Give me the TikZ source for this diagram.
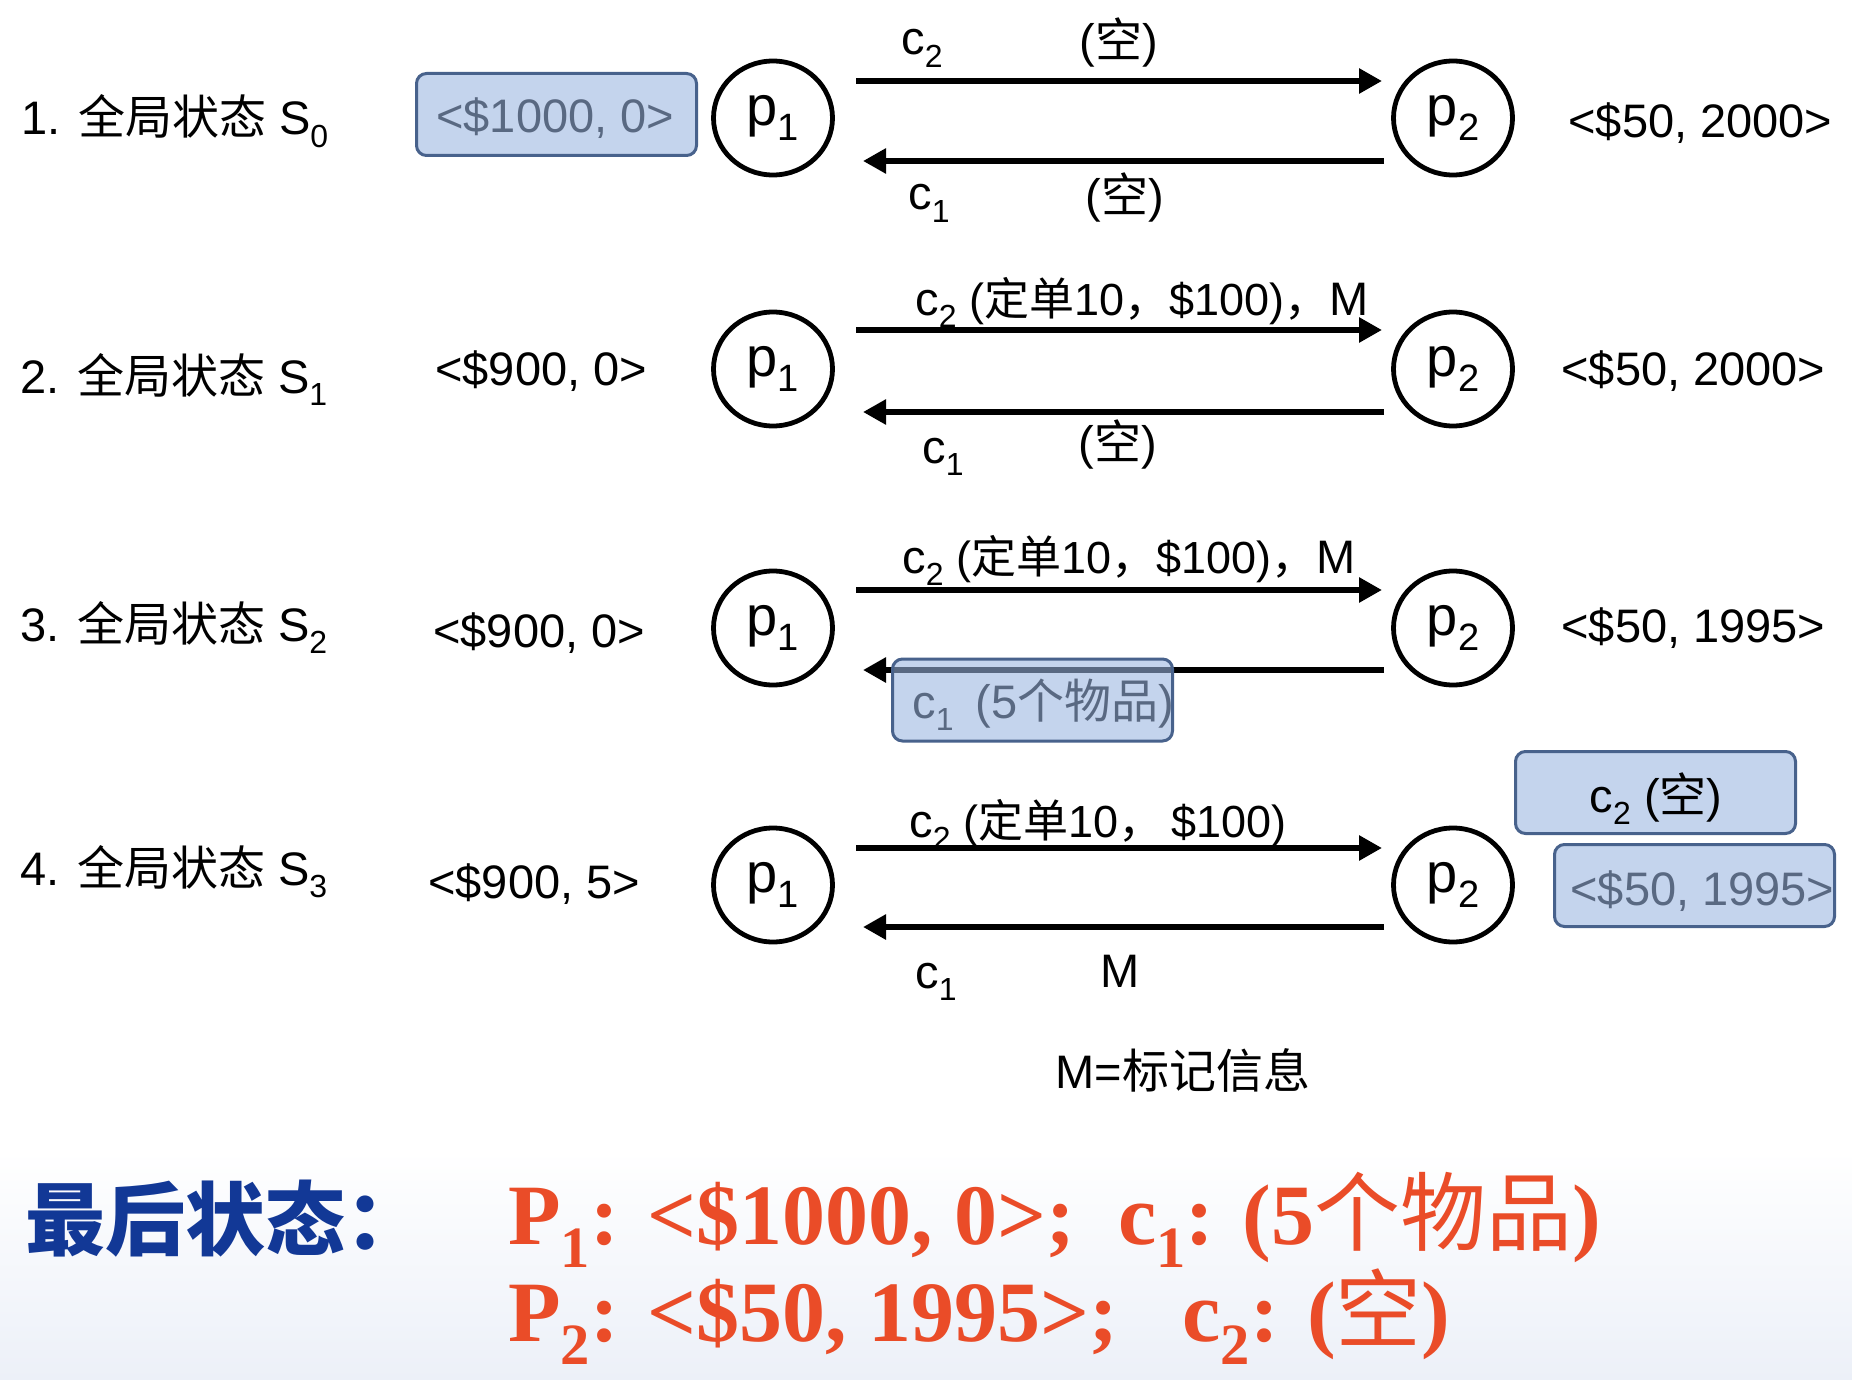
\documentclass[tikz,border=0pt]{standalone}
\usepackage{fontspec}
\usepackage{graphicx}
\setmainfont{Liberation Sans}
\newfontfamily\cjk{Noto Sans CJK SC}
\newfontfamily\tnr{Liberation Serif}
\usetikzlibrary{arrows.meta,shapes.geometric}
\definecolor{boxfill}{RGB}{155,181,224}
\definecolor{boxline}{RGB}{72,98,140}
\definecolor{finblue}{RGB}{18,56,150}
\definecolor{finred}{RGB}{234,76,40}
\definecolor{bgbot}{RGB}{236,240,248}
\newcommand\fsz[1]{\fontsize{#1pt}{#1pt}\selectfont}
\newcommand\zh[1]{{\cjk #1}}
\newcommand\zhr[1]{{\cjk\mdseries #1}}
\newcommand\sbs[1]{\raisebox{-0.27em}{\scalebox{0.68}{#1}}}
\newcommand\pn[1]{\fsz{28}p\sbs{#1}}
\begin{document}
\begin{tikzpicture}[x=0.5pt,y=-0.5pt,
  lab/.style={inner sep=0pt, anchor=base west, font=\fsz{23.5}},
  proc/.style={draw, ellipse, line width=2.4pt, minimum width=59.5pt, minimum height=57pt, inner sep=0pt},
  arr/.style={line width=3pt, -{Triangle[length=11.5pt,width=12pt]}},
  vbox/.style={draw=boxline, line width=1.5pt, rounded corners=5pt, fill=boxfill, fill opacity=0.58, draw opacity=1, minimum width=140pt, minimum height=41pt, inner sep=0pt},
  finr/.style={lab, font=\fsz{43}\tnr\bfseries, text=finred}]
\useasboundingbox (0,0) rectangle (1852,1380);
\fill[white] (0,0) rectangle (1852,1150);
\shade[top color=white, bottom color=bgbot] (0,1150) rectangle (1852,1380);

% ---------- Row 1 ----------
\node[lab] (l1) at (21,135) {1. \zh{全局状态} S\sbs{0}};
\node[lab] (v1) at (436,133) {<\$1000, 0>};
\node[vbox] (b1) at (556.5,114.5) {};
\node[proc] (p1a) at (773,118) {\pn{1}};
\node[proc] (p2a) at (1453,118) {\pn{2}};
\node[lab] (r1) at (1568,138) {<\$50, 2000>};
\draw[arr] ([shift={(83,-37)}]p1a.center) -- ([shift={(-71,-37)}]p2a.center);
\draw[arr] ([shift={(-69,43)}]p2a.center) -- ([shift={(90,43)}]p1a.center);
\node[lab] (c2a) at (901,55) {c\sbs{2}};
\node[lab] (e2a) at (1079,58) {(\zh{空})};
\node[lab] (c1a) at (908,210) {c\sbs{1}};
\node[lab] (e1a) at (1085,213) {(\zh{空})};

% ---------- Row 2 ----------
\node[lab] (l2) at (20,393) {2. \zh{全局状态} S\sbs{1}};
\node[lab] (v2) at (435,385) {<\$900, 0>};
\node[proc] (p1b) at (773,369) {\pn{1}};
\node[proc] (p2b) at (1453,369) {\pn{2}};
\node[lab] (r2) at (1561,385) {<\$50, 2000>};
\draw[arr] ([shift={(83,-39)}]p1b.center) -- ([shift={(-71,-39)}]p2b.center);
\draw[arr] ([shift={(-69,43)}]p2b.center) -- ([shift={(90,43)}]p1b.center);
\node[lab] (m2) at (915,315) {c\sbs{2} {\fsz{22.5}(\zh{定单}10\zh{，}\$100)\zh{，}}M};
\node[lab] (c1b) at (922,463) {c\sbs{1}};
\node[lab] (e1b) at (1078,459) {(\zh{空})};

% ---------- Row 3 ----------
\node[lab] (l3) at (20,641) {3. \zh{全局状态} S\sbs{2}};
\node[lab] (v3) at (433,647) {<\$900, 0>};
\node[proc] (p1c) at (773,628) {\pn{1}};
\node[proc] (p2c) at (1453,628) {\pn{2}};
\node[lab] (r3) at (1561,642) {<\$50, 1995>};
\draw[arr] ([shift={(83,-38)}]p1c.center) -- ([shift={(-71,-38)}]p2c.center);
\draw[arr] ([shift={(-69,42)}]p2c.center) -- ([shift={(90,42)}]p1c.center);
\node[lab] (m3) at (902,573) {c\sbs{2} {\fsz{22.5}(\zh{定单}10\zh{，}\$100)\zh{，}}M};
\node[lab] (c1c) at (912,718) {c\sbs{1}\hspace{11pt}(5\zh{个物品})};
\node[vbox] (b3) at (1032.5,700) {};

% ---------- Row 4 ----------
\node[lab] (l4) at (20,885) {4. \zh{全局状态} S\sbs{3}};
\node[lab] (v4) at (428,898) {<\$900, 5>};
\node[proc] (p1d) at (773,885) {\pn{1}};
\node[proc] (p2d) at (1453,885) {\pn{2}};
\node[vbox] (b4a) at (1655.5,792.5) {};
\node[lab, anchor=base] (e2d) at (1656,812) {c\sbs{2} (\zh{空})};
\node[lab] (r4) at (1570,905) {<\$50, 1995>};
\node[vbox] (b4b) at (1694.5,885.5) {};
\draw[arr] ([shift={(83,-37)}]p1d.center) -- ([shift={(-71,-37)}]p2d.center);
\draw[arr] ([shift={(-69,42)}]p2d.center) -- ([shift={(90,42)}]p1d.center);
\node[lab] (m4) at (909,837) {c\sbs{2} {\fsz{22.5}(\zh{定单}10\zh{，}\,\$100)}};
\node[lab] (c1d) at (915,988) {c\sbs{1}};
\node[lab] (md) at (1100,987) {M};

\node[lab] (key) at (1055,1088) {M=\zh{标记信息}};

% ---------- Final state ----------
\node[lab, font=\fsz{40}\cjk\bfseries, text=finblue] (fin) at (25,1249) {最后状态：};
\node[finr] (f1) at (508,1244)
  {P\sbs{1}: <\$1000, 0>;\ \ c\sbs{1}: (5\zhr{个物品})};
\node[finr] (f2) at (508,1341)
  {P\sbs{2}: <\$50, 1995>;\ \ \ c\sbs{2}: (\zhr{空})};
\end{tikzpicture}
\end{document}
